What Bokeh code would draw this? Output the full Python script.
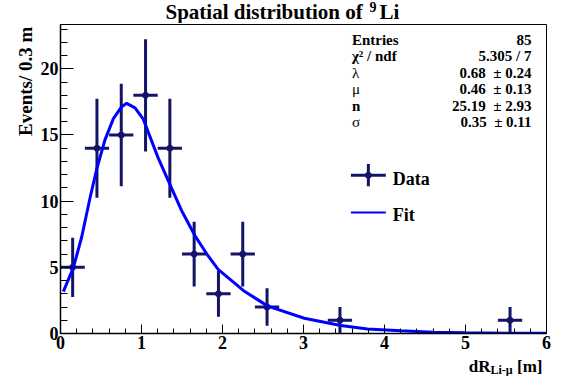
import numpy as np
from bokeh.plotting import figure
from bokeh.layouts import column, row
from bokeh.models import Range1d, FixedTicker, Label
from bokeh.embed import file_html
from bokeh.resources import INLINE

# ---------------- data ----------------
bin_centers = [0.15, 0.45, 0.75, 1.05, 1.35, 1.65, 1.95, 2.25, 2.55, 3.45, 5.55]
counts = [5, 14, 15, 18, 14, 6, 3, 6, 2, 1, 1]
count_errors = [2.24, 3.74, 3.87, 4.24, 3.74, 2.45, 1.73, 2.45, 1.41, 1.0, 1.0]
bin_half_width = 0.15

fit_x = [0.035, 0.16, 0.263, 0.365, 0.448, 0.55, 0.653, 0.755, 0.817, 0.92,
         1.022, 1.084, 1.207, 1.371, 1.494, 1.659, 1.823, 1.946, 2.275, 2.56,
         3.01, 3.46, 3.79, 4.2, 4.6, 5.0, 5.5, 6.0]
fit_y = [3.17, 5.0, 7.33, 10.26, 12.45, 14.65, 16.24, 17.14, 17.39, 17.05,
         16.2, 15.2, 13.25, 10.99, 9.3, 7.4, 5.86, 4.85, 3.17, 2.07,
         1.15, 0.6, 0.34, 0.2, 0.1, 0.05, 0.02, 0.01]

x_ticks = [0, 1, 2, 3, 4, 5, 6]
y_ticks = [0, 5, 10, 15, 20]

stats_names = ["Entries", "\u03c7\u00b2 / ndf", "\u03bb", "\u03bc", "n", "\u03c3"]
stats_bold = [True, True, False, False, True, False]
stats_values = ["85", "5.305 / 7", "0.68\u00a0 \u00b1 0.24", "0.46\u00a0 \u00b1 0.13",
                "25.19\u00a0 \u00b1 2.93", "0.35\u00a0 \u00b1 0.11"]

title_text = "Spatial distribution of"
title_sup = "9"
title_tail = "Li"
y_title = "Events/ 0.3 m"
x_title, x_title_sub, x_title_unit = "dR", "Li-\u03bc", "[m]"

X_MAX = 6.0
Y_MAX = 23.35

# ---------------- layout (pixels) ----------------
W, H = 551, 376
TITLE_H = 23
XLAB_H = 21
YLAB_W = 34
MAIN_W = W - YLAB_W
MAIN_H = H - TITLE_H - XLAB_H
BASE_FIX = 0.3   # em; labels render this much lower than the requested baseline

DATA_COL = "#141466"
FIT_COL = "#0000ff"
SERIF = "Liberation Serif"


def strip(width, height):
    f = figure(width=width, height=height, output_backend="svg", toolbar_location=None,
               x_range=Range1d(0, width), y_range=Range1d(0, height),
               x_axis_type=None, y_axis_type=None,
               min_border_left=0, min_border_right=0, min_border_top=0, min_border_bottom=0)
    f.outline_line_color = None
    f.background_fill_color = "white"
    f.border_fill_color = "white"
    f.grid.visible = False
    return f


def lab(fig, x, y, text, size, bold=True, align="left", angle=0.0):
    fig.add_layout(Label(x=x, y=y, text=text, text_font=SERIF,
                         text_font_style="bold" if bold else "normal",
                         text_font_size=f"{size}px", text_align=align,
                         text_baseline="alphabetic", text_color="black", angle=angle))


# ---------------- main plot ----------------
p = figure(width=MAIN_W, height=MAIN_H, output_backend="svg", toolbar_location=None,
           x_range=Range1d(0, X_MAX), y_range=Range1d(0, Y_MAX),
           min_border_left=26, min_border_right=5,
           min_border_top=1, min_border_bottom=22)
p.background_fill_color = "white"
p.border_fill_color = "white"
p.outline_line_color = "black"
p.outline_line_width = 1
p.xgrid.visible = False
p.ygrid.visible = False

for ax in (p.xaxis[0], p.yaxis[0]):
    ax.axis_line_width = 1.5
    ax.axis_line_color = "black"
    ax.major_tick_out = 0
    ax.minor_tick_out = 0
    ax.major_tick_line_color = "black"
    ax.minor_tick_line_color = "black"
    ax.major_label_text_font = SERIF
    ax.major_label_text_font_style = "bold"
    ax.major_label_text_font_size = "18px"
    ax.major_label_text_color = "black"
    ax.major_label_standoff = 2

p.xaxis.ticker = FixedTicker(ticks=x_ticks,
                             minor_ticks=[round(0.2 * i, 2) for i in range(31)])
p.yaxis.ticker = FixedTicker(ticks=y_ticks, minor_ticks=list(range(24)))
p.xaxis.major_tick_in = 9
p.xaxis.minor_tick_in = 5
p.yaxis.major_tick_in = 13
p.yaxis.minor_tick_in = 7

c = np.array(bin_centers, dtype=float)
n = np.array(counts, dtype=float)
e = np.array(count_errors, dtype=float)

p.segment(x0=c - bin_half_width, x1=c + bin_half_width, y0=n, y1=n,
          line_color=DATA_COL, line_width=3)
p.segment(x0=c, x1=c, y0=n - e, y1=n + e, line_color=DATA_COL, line_width=3)
p.scatter(x=c, y=n, size=6, color=DATA_COL)
p.line(x=fit_x, y=fit_y, line_color=FIT_COL, line_width=3)


# reference-frame pixel -> data (annotations inside the frame)
def fx(px):
    return (px - 62) / 487 * X_MAX


def fy(py):
    return (345 - py) / 319 * Y_MAX


# legend (drawn by hand)
lx0, lx1 = fx(353), fx(388)
lxm = fx(370.5)
p.segment(x0=[lx0], x1=[lx1], y0=[fy(181.7)], y1=[fy(181.7)], line_color=DATA_COL, line_width=3)
p.segment(x0=[lxm], x1=[lxm], y0=[fy(170)], y1=[fy(193)], line_color=DATA_COL, line_width=3)
p.scatter(x=[lxm], y=[fy(181.7)], size=6, color=DATA_COL)
p.segment(x0=[lx0], x1=[lx1], y0=[fy(220)], y1=[fy(220)], line_color=FIT_COL, line_width=2)
lab(p, fx(395), fy(190.5 - BASE_FIX * 18), "Data", 18)
lab(p, fx(395), fy(228 - BASE_FIX * 18), "Fit", 18)

# stats box
row_base = [46, 63.2, 80.3, 97.4, 114.5, 131.6]
for name, val, b, rb in zip(stats_names, stats_values, stats_bold, row_base):
    lab(p, fx(354), fy(rb - BASE_FIX * 15), name, 15, bold=b)
    lab(p, fx(534), fy(rb - BASE_FIX * 15), val, 15, bold=True, align="right")

# ---------------- title strip ----------------
t = strip(W, TITLE_H)
lab(t, 165, TITLE_H - (18 - BASE_FIX * 21), title_text, 21)
lab(t, 369, TITLE_H - (11 - BASE_FIX * 14), title_sup, 14)
lab(t, 379, TITLE_H - (18 - BASE_FIX * 21), title_tail, 21)

# ---------------- y-title strip ----------------
yl = strip(YLAB_W, MAIN_H)
lab(yl, 31 - BASE_FIX * 19, MAIN_H - (84 - TITLE_H), y_title, 19, align="center",
    angle=np.pi / 2)

# ---------------- x-title strip ----------------
xl = strip(W, XLAB_H)
y0 = H - XLAB_H
lab(xl, 542, XLAB_H - (371 - BASE_FIX * 17 - y0), x_title_unit, 17, align="right")
lab(xl, 490, XLAB_H - (373.3 - BASE_FIX * 12 - y0), x_title_sub, 12, align="left")
lab(xl, 490, XLAB_H - (371 - BASE_FIX * 17 - y0), x_title, 17, align="right")

layout = column(t, row(yl, p, spacing=0), xl, spacing=0)
open("out.html", "w").write(file_html(layout, INLINE))
